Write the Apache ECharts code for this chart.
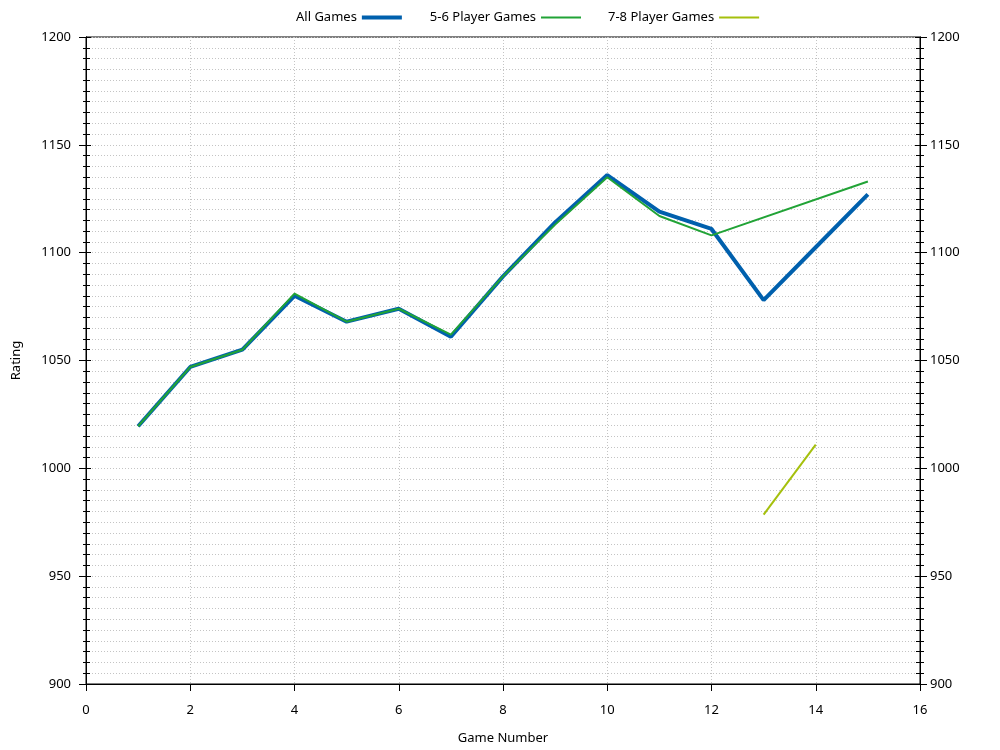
<!DOCTYPE html>
<html>
<head>
<meta charset="utf-8">
<script src="https://cdn.jsdelivr.net/npm/echarts@6/dist/echarts.min.js"></script>
<style>html,body{margin:0;padding:0;background:#fff}#c{width:1000px;height:750px}</style>
</head>
<body>
<div id="c"></div>
<script>
const games = [1, 2, 3, 4, 5, 6, 7, 8, 9, 10, 11, 12, 13, 14, 15];
const allGames = [1019.5, 1047, 1055, 1080, 1068, 1074, 1061, 1089, 1114, 1136, 1119, 1111, 1078, 1102.5, 1127];
const player56 = [1019.5, 1047, 1055, 1081, 1068, 1074, 1062, 1089, 1113, 1135, 1117, 1108, null, null, 1133];
const player78 = [null, null, null, null, null, null, null, null, null, null, null, null, 978.5, 1011, null];
const seriesNames = ['All Games', '5-6 Player Games', '7-8 Player Games'];
const xAxisName = 'Game Number';
const yAxisName = 'Rating';

function pairs(vals) {
  const out = [];
  games.forEach((g, i) => { if (vals[i] !== null) out.push([g, vals[i]]); });
  return out;
}

const FONT = 'Noto Sans';
const chart = echarts.init(document.getElementById('c'), null, { renderer: 'canvas' });

function yAx(position, inside, showLabel, len, minorLen, extra) {
  return Object.assign({
    type: 'value', position: position, min: 900, max: 1200, interval: 50,
    axisLine: { show: true, onZero: false, lineStyle: { color: '#000', width: 1 } },
    axisTick: { show: true, inside: inside, length: len, lineStyle: { color: '#000', width: 1 } },
    minorTick: { show: true, splitNumber: 10, length: minorLen, lineStyle: { color: '#000', width: 1 } },
    axisLabel: { show: showLabel, color: '#000', fontFamily: FONT, fontSize: 13, margin: position === 'left' ? 15 : 10,
      formatter: function (v) { return String(v); } },
    splitLine: { show: false },
    minorSplitLine: { show: false }
  }, extra || {});
}

const lineWidths = [4, 2, 2];

chart.setOption({
  animation: false,
  backgroundColor: '#fff',
  grid: { left: 86, right: 80, top: 37, bottom: 66, show: true, borderColor: '#000', borderWidth: 1, backgroundColor: 'transparent' },
  legend: {
    top: 6, left: 291, align: 'right', itemWidth: 40, itemHeight: 14, itemGap: 26,
    itemStyle: { color: 'rgba(0,0,0,0)', borderColor: 'rgba(0,0,0,0)', borderWidth: 0 },
    textStyle: { color: '#000', fontFamily: FONT, fontSize: 13 },
    data: seriesNames.map((n, i) => ({ name: n, lineStyle: { width: lineWidths[i] } }))
  },
  xAxis: {
    type: 'value', min: 0, max: 16, interval: 2,
    name: xAxisName, nameLocation: 'middle', nameGap: 48,
    nameTextStyle: { color: '#000', fontFamily: FONT, fontSize: 13 },
    axisLine: { show: true, onZero: false, lineStyle: { color: '#000', width: 1 } },
    axisTick: { show: true, inside: false, length: 7, lineStyle: { color: '#000' } },
    axisLabel: { color: '#000', fontFamily: FONT, fontSize: 13, margin: 20 },
    splitLine: { show: true, lineStyle: { color: '#c4c4c4', width: 1, type: [1, 2] } }
  },
  yAxis: [
    yAx('left', false, true, 7, 3, {
      name: yAxisName, nameLocation: 'middle', nameGap: 63,
      nameTextStyle: { color: '#000', fontFamily: FONT, fontSize: 13 },
      splitLine: { show: true, lineStyle: { color: '#c4c4c4', width: 1, type: [1, 2] } },
      minorSplitLine: { show: true, lineStyle: { color: '#c4c4c4', width: 1, type: [1, 2] } }
    }),
    yAx('left', true, false, 5, 4),
    yAx('right', false, true, 7, 4),
    yAx('right', true, false, 5, 4)
  ],
  series: [
    { name: seriesNames[0], type: 'line', data: pairs(allGames), symbol: 'none', yAxisIndex: 0, z: 2,
      lineStyle: { color: '#0060ad', width: lineWidths[0] }, itemStyle: { color: '#0060ad' } },
    { name: seriesNames[1], type: 'line', data: pairs(player56), symbol: 'none', yAxisIndex: 0, z: 3,
      lineStyle: { color: '#21a336', width: lineWidths[1] }, itemStyle: { color: '#21a336' } },
    { name: seriesNames[2], type: 'line', data: pairs(player78), symbol: 'none', yAxisIndex: 0, z: 4,
      lineStyle: { color: '#a5c00c', width: lineWidths[2] }, itemStyle: { color: '#a5c00c' } }
  ]
});
</script>
</body>
</html>
